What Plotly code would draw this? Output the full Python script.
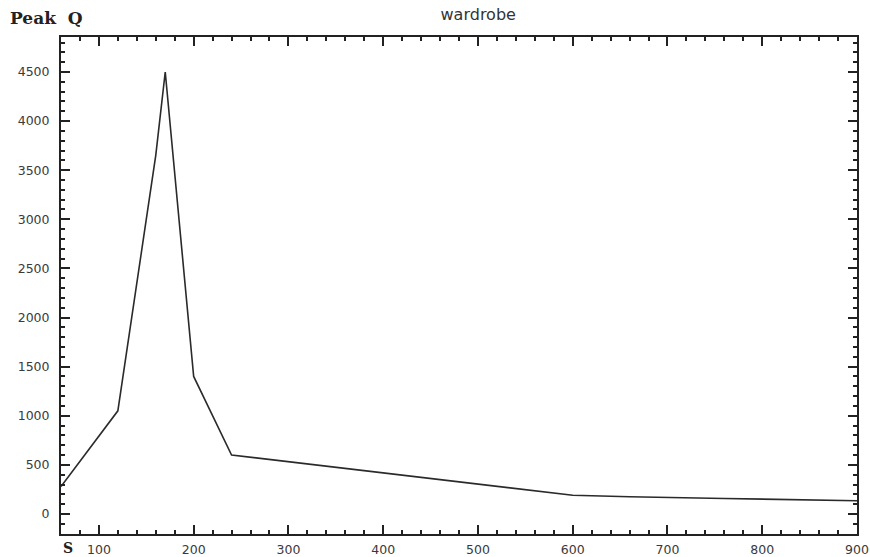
import plotly.graph_objects as go

x_vals = [60, 120, 160, 170, 200, 240, 600, 660, 760, 850, 900]
y_vals = [280, 1050, 3650, 4500, 1400, 600, 190, 175, 158, 140, 135]
x_ticks = [100, 200, 300, 400, 500, 600, 700, 800, 900]
y_ticks = [0, 500, 1000, 1500, 2000, 2500, 3000, 3500, 4000, 4500]

fig = go.Figure()
fig.add_trace(go.Scatter(x=x_vals, y=y_vals, mode="lines",
                         line=dict(color="#2a2a2a", width=1.6), showlegend=False))

axis_common = dict(showline=True, linecolor="#222", linewidth=2, mirror="allticks",
                   ticks="inside", tickcolor="#222", tickwidth=1.5, ticklen=9,
                   showgrid=False, zeroline=False, automargin=False,
                   tickfont=dict(family="DejaVu Sans", size=12.5, color="#3a3a3a"))

fig.update_layout(
    width=870, height=557,
    margin=dict(l=61, r=13, t=37, b=23),
    paper_bgcolor="white", plot_bgcolor="white",
    title=dict(text="wardrobe", x=456/870, xref="paper", xanchor="center", y=1-14/557, yanchor="middle",
               font=dict(family="DejaVu Sans", size=16, color="#333"), automargin=False),
    xaxis=dict(range=[60, 900], tickvals=x_ticks, ticklabelstandoff=3,
               minor=dict(ticks="inside", ticklen=4, dtick=20, tick0=0, tickcolor="#222", tickwidth=1.5),
               **axis_common),
    yaxis=dict(range=[-204, 4856], tickvals=y_ticks, ticklabelstandoff=7,
               minor=dict(ticks="inside", ticklen=4, dtick=100, tick0=0, tickcolor="#222", tickwidth=1.5),
               **axis_common),
    annotations=[
        dict(text="<b>Peak  Q</b>", xref="paper", yref="paper", x=-(61-8)/796, y=1+(37-18)/497,
             xanchor="left", yanchor="middle", showarrow=False,
             font=dict(family="DejaVu Serif", size=17, color="#222")),
        dict(text="<b>S</b>", xref="paper", yref="paper", x=(68-61)/796, y=-(548-534)/497,
             xanchor="center", yanchor="middle", showarrow=False,
             font=dict(family="DejaVu Serif", size=14, color="#222")),
    ],
)

fig.write_html("out.html")
